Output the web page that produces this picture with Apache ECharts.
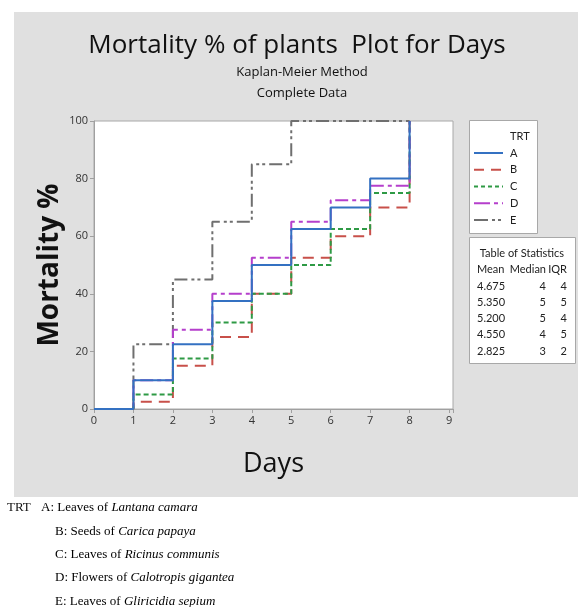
<!DOCTYPE html>
<html>
<head>
<meta charset="utf-8">
<script src="https://cdn.jsdelivr.net/npm/echarts@6/dist/echarts.min.js"></script>
<style>
html,body{margin:0;padding:0;background:#fff;}
#chart{width:578px;height:607px;}
</style>
</head>
<body>
<div id="chart"></div>
<script>
// ---- data ----
const days = [0, 1, 2, 3, 4, 5, 6, 7, 8];
const groups = ['A', 'B', 'C', 'D', 'E'];
const mortA = [0, 10, 22.5, 37.5, 50, 62.5, 70, 80, 100];
const mortB = [0, 2.5, 15, 25, 40, 52.5, 60, 70, 100];
const mortC = [0, 5, 17.5, 30, 40, 50, 62.5, 75, 100];
const mortD = [0, 10, 27.5, 40, 52.5, 65, 72.5, 77.5, 100];
const mortE = [0, 22.5, 45, 65, 85, 100, 100, 100, 100];
const statMean = ['4.675', '5.350', '5.200', '4.550', '2.825'];
const statMedian = ['4', '5', '5', '4', '3'];
const statIQR = ['4', '5', '4', '5', '2'];
const xTicks = [0, 1, 2, 3, 4, 5, 6, 7, 8, 9];
const yTicks = [0, 20, 40, 60, 80, 100];
const trtPrefix = ['A: Leaves of ', 'B: Seeds of ', 'C: Leaves of ', 'D: Flowers of ', 'E: Leaves of '];
const trtSpecies = ['Lantana camara', 'Carica papaya', 'Ricinus communis', 'Calotropis gigantea', 'Gliricidia sepium'];

// ---- styles ----
const values = [mortA, mortB, mortC, mortD, mortE];
const colors = ['#3471c2', '#c8504a', '#2e9a45', '#b53fcc', '#6f6f6f'];
const dashes = ['solid', [11, 7], [5, 3], [13, 4, 4, 4], [13, 4, 3, 3, 3, 4]];
const legendDashes = ['solid', [10, 7], [4, 3], [16, 4, 4, 4], [14, 4, 3, 3, 3, 4]];
const zs = [6, 2, 3, 5, 1];
const FONT = '"Open Sans", "Noto Sans", sans-serif';
const SMALL = 'Lato, "Open Sans", sans-serif';
const SERIF = '"Liberation Serif", "Times New Roman", serif';

const chart = echarts.init(document.getElementById('chart'), null, {renderer: 'canvas'});

const series = groups.map((g, i) => ({
  name: g,
  type: 'line',
  step: 'end',
  symbol: 'none',
  z: zs[i],
  data: days.map((d, k) => [d, values[i][k]]),
  lineStyle: {color: colors[i], width: 2, type: dashes[i]},
  itemStyle: {color: colors[i]},
  animation: false
}));

const graphics = [];
// gray panel
graphics.push({type: 'rect', z: -10, silent: true, shape: {x: 14, y: 12, width: 564, height: 485}, style: {fill: '#e0e0e0'}});
// titles
graphics.push({type: 'text', x: 297, y: 46, style: {text: 'Mortality % of plants  Plot for Days', font: '26px ' + FONT, fill: '#111', textAlign: 'center', textVerticalAlign: 'middle'}});
graphics.push({type: 'text', x: 302, y: 72, style: {text: 'Kaplan-Meier Method', font: '13px ' + FONT, fill: '#111', textAlign: 'center', textVerticalAlign: 'middle'}});
graphics.push({type: 'text', x: 302, y: 93, style: {text: 'Complete Data', font: '13px ' + FONT, fill: '#111', textAlign: 'center', textVerticalAlign: 'middle'}});
// legend box
graphics.push({type: 'rect', z: 1, shape: {x: 469.5, y: 120.5, width: 68, height: 113}, style: {fill: '#fff', stroke: '#a8a8a8', lineWidth: 1}});
graphics.push({type: 'text', z: 2, x: 510, y: 136, style: {text: 'TRT', font: '11px ' + SMALL, fill: '#222', textVerticalAlign: 'middle'}});
groups.forEach((g, i) => {
  const y = 153 + i * 16.75;
  graphics.push({type: 'line', z: 2, shape: {x1: 474, y1: y, x2: 503, y2: y}, style: {stroke: colors[i], lineWidth: 2, lineDash: legendDashes[i] === 'solid' ? null : legendDashes[i]}});
  graphics.push({type: 'text', z: 2, x: 510, y: y, style: {text: g, font: '11px ' + SMALL, fill: '#222', textVerticalAlign: 'middle'}});
});
// table box
graphics.push({type: 'rect', z: 1, shape: {x: 469.5, y: 237.5, width: 106, height: 126}, style: {fill: '#fff', stroke: '#a8a8a8', lineWidth: 1}});
graphics.push({type: 'text', z: 2, x: 522, y: 253, style: {text: 'Table of Statistics', font: '11px ' + SMALL, fill: '#222', textAlign: 'center', textVerticalAlign: 'middle'}});
graphics.push({type: 'text', z: 2, x: 477, y: 269, style: {text: 'Mean', font: '11px ' + SMALL, fill: '#222', textVerticalAlign: 'middle'}});
graphics.push({type: 'text', z: 2, x: 546, y: 269, style: {text: 'Median', font: '11px ' + SMALL, fill: '#222', textAlign: 'right', textVerticalAlign: 'middle'}});
graphics.push({type: 'text', z: 2, x: 567, y: 269, style: {text: 'IQR', font: '11px ' + SMALL, fill: '#222', textAlign: 'right', textVerticalAlign: 'middle'}});
statMean.forEach((m, i) => {
  const y = 286 + i * 16.3;
  graphics.push({type: 'text', z: 2, x: 477, y: y, style: {text: m, font: '11px ' + SMALL, fill: '#222', textVerticalAlign: 'middle'}});
  graphics.push({type: 'text', z: 2, x: 546, y: y, style: {text: statMedian[i], font: '11px ' + SMALL, fill: '#222', textAlign: 'right', textVerticalAlign: 'middle'}});
  graphics.push({type: 'text', z: 2, x: 567, y: y, style: {text: statIQR[i], font: '11px ' + SMALL, fill: '#222', textAlign: 'right', textVerticalAlign: 'middle'}});
});
// footnote
graphics.push({type: 'text', x: 7, y: 508, style: {text: 'TRT', font: '13px ' + SERIF, fill: '#111', textVerticalAlign: 'middle'}});
trtPrefix.forEach((p, i) => {
  graphics.push({type: 'text', x: i === 0 ? 41 : 55, y: 508 + i * 23.3, style: {
    text: '{n|' + p + '}{i|' + trtSpecies[i] + '}',
    textVerticalAlign: 'middle',
    rich: {
      n: {fontFamily: SERIF, fontSize: 13, color: '#111'},
      i: {fontFamily: SERIF, fontSize: 13, fontStyle: 'italic', color: '#111'}
    }
  }});
});

const option = {
  animation: false,
  backgroundColor: '#fff',
  grid: {left: 94, top: 121, width: 359, height: 288, show: true, backgroundColor: '#fff', borderColor: '#a8a8a8', borderWidth: 1},
  xAxis: {
    type: 'value', min: 0, max: 9.1, interval: 1,
    name: 'Days', nameLocation: 'middle', nameGap: 42,
    nameTextStyle: {fontFamily: FONT, fontSize: 27, color: '#111'},
    axisLine: {show: true, lineStyle: {color: '#a0a0a0'}},
    axisTick: {show: true, length: 4, lineStyle: {color: '#a0a0a0'}},
    axisLabel: {fontFamily: FONT, fontSize: 11, color: '#333', margin: 6, showMaxLabel: true,
      formatter: v => (xTicks.indexOf(v) >= 0 ? String(v) : '')},
    splitLine: {show: false}
  },
  yAxis: {
    type: 'value', min: 0, max: 100, interval: 20,
    name: 'Mortality %', nameLocation: 'middle', nameGap: 30, nameRotate: 90, nameMoveOverlap: false,
    nameTextStyle: {fontFamily: FONT, fontSize: 28, fontWeight: 'bold', color: '#111'},
    axisLine: {show: true, lineStyle: {color: '#a0a0a0'}},
    axisTick: {show: true, length: 4, lineStyle: {color: '#a0a0a0'}},
    axisLabel: {fontFamily: FONT, fontSize: 11, color: '#333', margin: 6,
      formatter: v => (yTicks.indexOf(v) >= 0 ? String(v) : '')},
    splitLine: {show: false}
  },
  graphic: graphics,
  series: series
};
chart.setOption(option);
</script>
</body>
</html>
